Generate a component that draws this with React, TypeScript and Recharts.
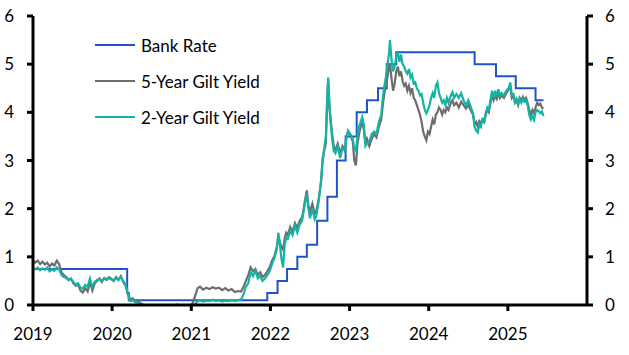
import React from 'react';
import { LineChart, Line, XAxis, YAxis, Legend } from 'recharts';

const giltDates = [
  2019.00, 2019.03, 2019.06, 2019.09, 2019.12, 2019.15, 2019.18, 2019.21, 2019.24, 2019.27,
  2019.30, 2019.33, 2019.36, 2019.39, 2019.42, 2019.45, 2019.48, 2019.51, 2019.54, 2019.57,
  2019.60, 2019.63, 2019.66, 2019.69, 2019.72, 2019.75, 2019.78, 2019.81, 2019.84, 2019.87,
  2019.90, 2019.93, 2019.96, 2019.99, 2020.02, 2020.05, 2020.08, 2020.11, 2020.14, 2020.17,
  2020.19, 2020.21, 2020.23, 2020.26, 2020.29, 2020.32, 2020.35, 2020.38, 2020.42, 2020.46,
  2020.50, 2020.54, 2020.58, 2020.62, 2020.66, 2020.70, 2020.74, 2020.78, 2020.82, 2020.86,
  2020.90, 2020.94, 2020.98, 2021.02, 2021.05, 2021.08, 2021.11, 2021.15, 2021.19, 2021.23,
  2021.27, 2021.31, 2021.35, 2021.39, 2021.43, 2021.47, 2021.51, 2021.55, 2021.59, 2021.63,
  2021.66, 2021.69, 2021.72, 2021.75, 2021.78, 2021.81, 2021.84, 2021.87, 2021.90, 2021.93,
  2021.96, 2021.99, 2022.02, 2022.05, 2022.08, 2022.10, 2022.12, 2022.14, 2022.16, 2022.18,
  2022.20, 2022.22, 2022.25, 2022.28, 2022.31, 2022.34, 2022.37, 2022.40, 2022.42, 2022.44,
  2022.46, 2022.48, 2022.50, 2022.53, 2022.56, 2022.58, 2022.61, 2022.64, 2022.66, 2022.68,
  2022.70, 2022.72, 2022.73, 2022.745, 2022.76, 2022.78, 2022.80, 2022.82, 2022.85, 2022.88,
  2022.91, 2022.94, 2022.96, 2022.98, 2023.01, 2023.04, 2023.06, 2023.08, 2023.10, 2023.12,
  2023.14, 2023.16, 2023.18, 2023.20, 2023.22, 2023.25, 2023.28, 2023.31, 2023.34, 2023.37,
  2023.40, 2023.42, 2023.44, 2023.46, 2023.48, 2023.50, 2023.51, 2023.53, 2023.55, 2023.57,
  2023.59, 2023.61, 2023.63, 2023.65, 2023.67, 2023.69, 2023.71, 2023.73, 2023.75, 2023.77,
  2023.79, 2023.81, 2023.83, 2023.85, 2023.87, 2023.89, 2023.91, 2023.93, 2023.95, 2023.97,
  2023.99, 2024.01, 2024.03, 2024.05, 2024.07, 2024.09, 2024.11, 2024.13, 2024.15, 2024.17,
  2024.19, 2024.21, 2024.23, 2024.25, 2024.28, 2024.30, 2024.32, 2024.35, 2024.38, 2024.41,
  2024.44, 2024.47, 2024.50, 2024.53, 2024.56, 2024.58, 2024.60, 2024.62, 2024.64, 2024.66,
  2024.68, 2024.70, 2024.72, 2024.74, 2024.76, 2024.78, 2024.80, 2024.82, 2024.84, 2024.86,
  2024.88, 2024.90, 2024.92, 2024.95, 2024.98, 2025.01, 2025.03, 2025.05, 2025.07, 2025.09,
  2025.11, 2025.13, 2025.15, 2025.17, 2025.19, 2025.21, 2025.23, 2025.25, 2025.27, 2025.29,
  2025.31, 2025.33, 2025.35, 2025.37, 2025.39, 2025.41, 2025.43, 2025.45,
];

const gilt5Year = [
  0.93, 0.88, 0.92, 0.85, 0.90, 0.84, 0.88, 0.80, 0.86, 0.82,
  0.92, 0.85, 0.68, 0.62, 0.58, 0.52, 0.55, 0.45, 0.40, 0.42,
  0.30, 0.26, 0.35, 0.28, 0.48, 0.30, 0.45, 0.50, 0.55, 0.48,
  0.56, 0.52, 0.58, 0.55, 0.50, 0.58, 0.52, 0.60, 0.48, 0.40,
  0.28, 0.18, 0.12, 0.14, 0.08, 0.10, 0.04, 0.02, -0.04, -0.02,
  -0.05, 0.00, -0.06, -0.03, -0.05, -0.08, -0.04, -0.03, 0.01, -0.02,
  -0.04, -0.06, -0.03, 0.05, 0.20, 0.35, 0.38, 0.32, 0.36, 0.33,
  0.37, 0.34, 0.36, 0.31, 0.35, 0.30, 0.33, 0.27, 0.29, 0.28,
  0.38, 0.50, 0.62, 0.78, 0.70, 0.75, 0.62, 0.68, 0.58, 0.62,
  0.70, 0.78, 0.92, 1.02, 1.20, 1.42, 1.30, 1.20, 1.15, 1.38,
  1.50, 1.45, 1.62, 1.52, 1.70, 1.60, 1.75, 1.82, 2.00, 2.20,
  2.38, 2.05, 1.95, 2.10, 1.90, 1.95, 2.20, 2.55, 3.00, 3.20,
  3.35, 4.30, 4.65, 4.10, 3.85, 3.55, 3.30, 3.20, 3.35, 3.15,
  3.30, 3.20, 3.50, 3.60, 3.52, 3.40, 3.00, 2.90, 3.35, 3.55,
  3.70, 3.78, 3.65, 3.35, 3.45, 3.30, 3.45, 3.55, 3.48, 3.70,
  3.85, 4.15, 4.40, 4.55, 4.75, 4.95, 5.02, 4.70, 4.45, 4.60,
  4.85, 4.95, 4.75, 4.85, 4.65, 4.55, 4.60, 4.45, 4.55, 4.40,
  4.50, 4.30, 4.25, 4.15, 4.05, 3.95, 3.80, 3.60, 3.50, 3.42,
  3.60, 3.55, 3.70, 3.85, 3.75, 3.95, 4.00, 4.10, 4.05, 3.95,
  4.05, 4.00, 4.10, 4.05, 4.20, 4.25, 4.15, 4.20, 4.10, 4.22,
  4.15, 4.08, 4.15, 4.05, 3.95, 3.75, 3.80, 3.70, 3.82, 3.78,
  3.85, 3.80, 3.95, 4.05, 4.00, 4.20, 4.35, 4.25, 4.35, 4.28,
  4.40, 4.30, 4.35, 4.30, 4.40, 4.48, 4.55, 4.30, 4.35, 4.20,
  4.25, 4.15, 4.30, 4.25, 4.32, 4.25, 4.30, 4.20, 4.05, 3.95,
  4.05, 3.98, 4.10, 4.20, 4.15, 4.18, 4.10, 4.08,
];

const gilt2Year = [
  0.77, 0.74, 0.78, 0.72, 0.76, 0.73, 0.78, 0.70, 0.74, 0.71,
  0.78, 0.74, 0.62, 0.58, 0.56, 0.52, 0.54, 0.48, 0.42, 0.45,
  0.36, 0.34, 0.42, 0.38, 0.55, 0.38, 0.48, 0.52, 0.54, 0.50,
  0.56, 0.54, 0.56, 0.53, 0.50, 0.56, 0.52, 0.58, 0.50, 0.42,
  0.30, 0.15, 0.08, 0.10, 0.06, 0.05, 0.02, -0.02, -0.06, -0.05,
  -0.08, -0.02, -0.04, -0.01, -0.05, -0.04, -0.02, -0.04, -0.01, -0.03,
  -0.02, -0.04, -0.03, -0.02, 0.02, 0.08, 0.10, 0.07, 0.09, 0.08,
  0.11, 0.08, 0.10, 0.07, 0.09, 0.08, 0.10, 0.08, 0.10, 0.12,
  0.22, 0.38, 0.45, 0.68, 0.60, 0.72, 0.55, 0.60, 0.50, 0.55,
  0.62, 0.70, 0.85, 0.98, 1.15, 1.50, 1.25, 0.95, 0.78, 1.25,
  1.40, 1.38, 1.55, 1.45, 1.65, 1.50, 1.68, 1.75, 1.95, 2.15,
  2.30, 2.00, 1.80, 2.00, 1.78, 1.85, 2.15, 2.60, 3.05, 3.25,
  3.50, 4.45, 4.72, 4.20, 3.80, 3.45, 3.20, 3.15, 3.30, 3.05,
  3.25, 3.22, 3.45, 3.62, 3.55, 3.45, 3.25, 3.20, 3.50, 3.70,
  3.80, 3.90, 3.75, 3.30, 3.35, 3.40, 3.55, 3.60, 3.55, 3.80,
  3.95, 4.30, 4.55, 4.75, 5.00, 5.25, 5.50, 5.10, 4.85, 4.95,
  5.15, 5.25, 5.05, 5.20, 5.00, 4.95, 4.85, 4.80, 4.90, 4.72,
  4.78, 4.60, 4.62, 4.50, 4.45, 4.35, 4.38, 4.20, 4.05, 3.98,
  4.05, 4.15, 4.30, 4.40, 4.30, 4.55, 4.62, 4.40, 4.30, 4.20,
  4.25, 4.15, 4.30, 4.20, 4.35, 4.42, 4.30, 4.38, 4.30, 4.40,
  4.25, 4.15, 4.25, 4.12, 3.98, 3.70, 3.62, 3.58, 3.75, 3.70,
  3.88, 3.78, 3.98, 4.10, 4.05, 4.25, 4.45, 4.30, 4.45, 4.32,
  4.48, 4.35, 4.40, 4.35, 4.45, 4.50, 4.62, 4.35, 4.38, 4.22,
  4.28, 4.18, 4.28, 4.20, 4.28, 4.22, 4.25, 4.15, 3.95, 3.85,
  3.92, 3.84, 4.00, 4.05, 4.02, 3.98, 4.02, 3.92,
];

// Bank Rate decisions (% ), held until the next date
const rateDates = [
  2019.00, 2020.19, 2020.21, 2021.96, 2022.09, 2022.21, 2022.34, 2022.46, 2022.59, 2022.72,
  2022.84, 2022.95, 2023.09, 2023.22, 2023.36, 2023.47, 2023.59, 2024.58, 2024.85, 2025.10,
  2025.35, 2025.45,
];
const bankRate = [
  0.75, 0.25, 0.10, 0.25, 0.50, 0.75, 1.00, 1.25, 1.75, 2.25,
  3.00, 3.50, 4.00, 4.25, 4.50, 5.00, 5.25, 5.00, 4.75, 4.50,
  4.25, 4.25,
];

const yearTicks = [2019, 2020, 2021, 2022, 2023, 2024, 2025];
const yTicks = [0, 1, 2, 3, 4, 5, 6];

const giltData = giltDates.map((t, i) => ({ t, g5: gilt5Year[i], g2: gilt2Year[i] }));
const rateData = rateDates.map((t, i) => ({ t, rate: bankRate[i] }));

const FONT = 'Lato, "Noto Sans", sans-serif';
const BLUE = '#2153c8';
const GREY = '#6d6d6d';
const TEAL = '#14b4a4';

const legendItems = [
  { name: 'Bank Rate', color: BLUE },
  { name: '5-Year Gilt Yield', color: GREY },
  { name: '2-Year Gilt Yield', color: TEAL },
];

function ChartLegend() {
  return (
    <div style={{ fontFamily: FONT, fontSize: 17, color: '#000' }}>
      {legendItems.map((item) => (
        <div key={item.name} style={{ display: 'flex', alignItems: 'center', height: 36 }}>
          <div style={{ width: 40, height: 2, background: item.color, marginRight: 6 }} />
          <span>{item.name}</span>
        </div>
      ))}
    </div>
  );
}

const tickStyle = { fontFamily: FONT, fontSize: 17, fill: '#000' };
const axisLine = { stroke: '#000', strokeWidth: 3 };

export default function App() {
  return (
    <div style={{ position: 'absolute', left: 0, top: 0, width: 629, height: 355, background: '#fff' }}>
      <LineChart width={629} height={355} margin={{ top: 16, right: 0, bottom: 0, left: 0 }}>
        <XAxis
          dataKey="t"
          type="number"
          domain={[2019, 2026]}
          ticks={yearTicks}
          allowDataOverflow
          height={50}
          tick={tickStyle}
          tickSize={6}
          tickMargin={17}
          axisLine={axisLine}
          tickLine={axisLine}
        />
        <YAxis
          yAxisId="left"
          type="number"
          domain={[0, 6]}
          ticks={yTicks}
          allowDataOverflow
          width={33}
          tick={tickStyle}
          tickSize={6}
          tickMargin={13}
          axisLine={axisLine}
          tickLine={axisLine}
        />
        <YAxis
          yAxisId="right"
          orientation="right"
          type="number"
          domain={[0, 6]}
          ticks={yTicks}
          allowDataOverflow
          width={42}
          tick={tickStyle}
          tickSize={6}
          tickMargin={12}
          axisLine={axisLine}
          tickLine={axisLine}
        />
        <Legend
          layout="vertical"
          align="center"
          verticalAlign="middle"
          content={<ChartLegend />}
          wrapperStyle={{ position: 'absolute', left: 95, top: 27, width: 220 }}
        />
        <Line
          yAxisId="left"
          data={rateData}
          dataKey="rate"
          type="stepAfter"
          stroke={BLUE}
          strokeWidth={2}
          dot={false}
          isAnimationActive={false}
        />
        <Line
          yAxisId="left"
          data={giltData}
          dataKey="g5"
          type="linear"
          stroke={GREY}
          strokeWidth={2.2}
          dot={false}
          isAnimationActive={false}
        />
        <Line
          yAxisId="left"
          data={giltData}
          dataKey="g2"
          type="linear"
          stroke={TEAL}
          strokeWidth={2.2}
          dot={false}
          isAnimationActive={false}
        />
      </LineChart>
    </div>
  );
}
